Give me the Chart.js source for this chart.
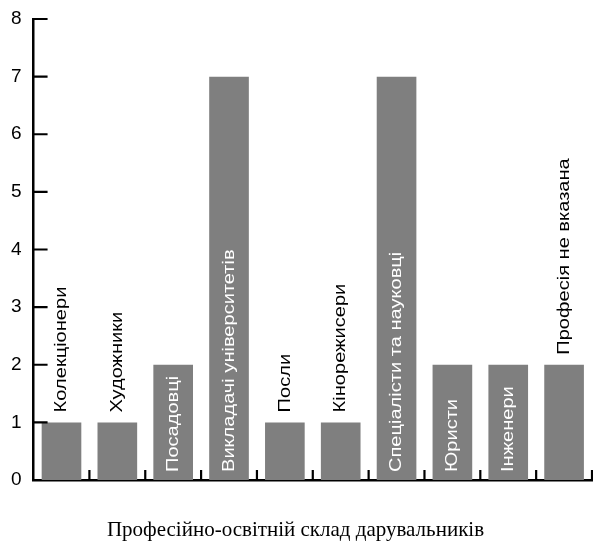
<!DOCTYPE html>
<html>
<head>
<meta charset="utf-8">
<script src="https://cdn.jsdelivr.net/npm/chart.js@4/dist/chart.umd.min.js"></script>
<style>
  html, body { margin: 0; padding: 0; background: #fff; }
  canvas { display: block; }
</style>
</head>
<body>
<canvas id="c" width="593" height="551"></canvas>
<script>
const categories = [
  'Колекціонери', 'Художники', 'Посадовці', 'Викладачі університетів', 'Посли',
  'Кінорежисери', 'Спеціалісти та науковці', 'Юристи', 'Інженери', 'Професія не вказана'
];
const donorCounts = [1, 1, 2, 7, 1, 1, 7, 2, 2, 2];
const yTickValues = [0, 1, 2, 3, 4, 5, 6, 7, 8];
const chartTitle = 'Професійно-освітній склад дарувальників';

const SANS = "'Liberation Sans', Arial, sans-serif";
const SERIF = "'Liberation Serif', 'Times New Roman', serif";

const barLabelPlugin = {
  id: 'barLabels',
  afterDatasetsDraw(chart) {
    const ctx = chart.ctx;
    const meta = chart.getDatasetMeta(0);
    const stretch = 1.18;
    ctx.save();
    ctx.font = '17px ' + SANS;
    meta.data.forEach((bar, i) => {
      const text = categories[i];
      const w = ctx.measureText(text).width * stretch;
      const h = bar.base - bar.y;
      const inside = donorCounts[i] >= 2 && w + 12 < h;
      ctx.save();
      if (inside) {
        ctx.translate(bar.x, bar.base - 8);
        ctx.fillStyle = '#ffffff';
      } else {
        ctx.translate(bar.x, bar.y - 10);
        ctx.fillStyle = '#000000';
      }
      ctx.rotate(-Math.PI / 2);
      ctx.scale(stretch, 1);
      ctx.textAlign = 'left';
      ctx.textBaseline = 'middle';
      ctx.fillText(text, 0, 0);
      ctx.restore();
    });
    ctx.restore();
  }
};

const inwardTicksPlugin = {
  id: 'inwardTicks',
  afterDatasetsDraw(chart) {
    const ctx = chart.ctx;
    const area = chart.chartArea;
    const xs = chart.scales.x;
    const ys = chart.scales.y;
    ctx.save();
    ctx.strokeStyle = '#000';
    ctx.lineWidth = 2.2;
    ctx.beginPath();
    yTickValues.forEach(v => {
      if (v === 0) return;
      const y = ys.getPixelForValue(v);
      ctx.moveTo(area.left, y);
      ctx.lineTo(area.left + 14, y);
    });
    for (let i = 1; i <= categories.length; i++) {
      const x = xs.getPixelForValue(i - 0.5);
      ctx.moveTo(x, area.bottom);
      ctx.lineTo(x, area.bottom - 10);
    }
    ctx.stroke();
    ctx.restore();
  }
};

new Chart(document.getElementById('c'), {
  type: 'bar',
  data: {
    labels: categories,
    datasets: [{
      data: donorCounts,
      backgroundColor: '#7f7f7f',
      borderWidth: 0,
      barPercentage: 0.71,
      categoryPercentage: 1
    }]
  },
  options: {
    responsive: false,
    devicePixelRatio: 1,
    animation: false,
    layout: { padding: { left: -1, right: 1, top: 19, bottom: 0 } },
    plugins: {
      legend: { display: false },
      tooltip: { enabled: false },
      title: {
        display: true,
        text: chartTitle,
        position: 'bottom',
        color: '#000',
        font: { family: SERIF, size: 21, weight: 'normal' },
        padding: { top: 38, bottom: 7.8 }
      }
    },
    scales: {
      x: {
        z: 1,
        grid: { display: false, drawTicks: false },
        border: { display: true, color: '#000', width: 2.5 },
        ticks: { display: false }
      },
      y: {
        z: 1,
        min: 0,
        max: 8,
        afterBuildTicks(scale) { scale.ticks = yTickValues.map(v => ({ value: v })); },
        afterFit(scale) { scale.paddingTop = 0; scale.paddingBottom = 0; },
        grid: { display: false, drawTicks: false },
        border: { display: true, color: '#000', width: 2.5 },
        ticks: { color: '#000', padding: 12, font: { family: SANS, size: 19 } }
      }
    }
  },
  plugins: [barLabelPlugin, inwardTicksPlugin]
});
</script>
</body>
</html>
